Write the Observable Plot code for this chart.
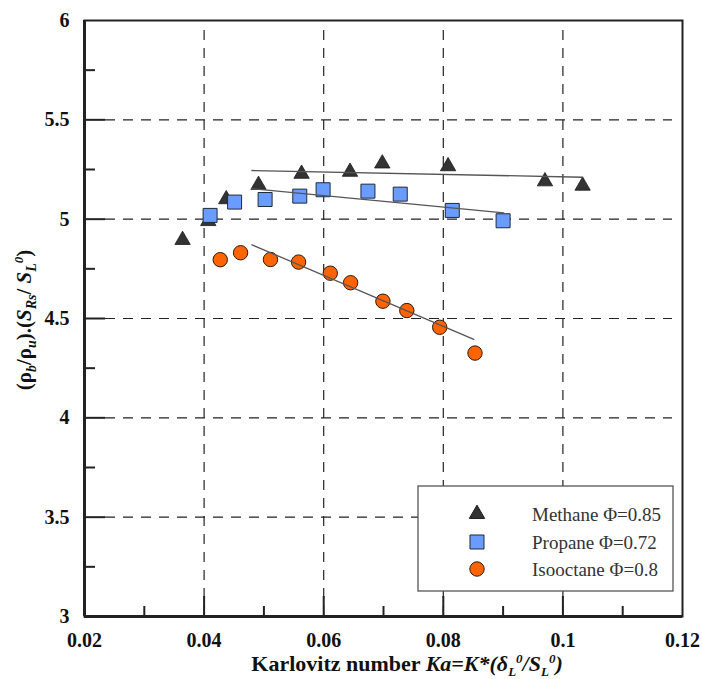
<!DOCTYPE html>
<html><head><meta charset="utf-8">
<script src="https://cdn.jsdelivr.net/npm/d3@7"></script>
<script src="https://cdn.jsdelivr.net/npm/@observablehq/plot@0.6"></script>
<style>
body{margin:0;background:#fff}
#chart{width:702px;height:679px}
#chart svg text, #chart svg tspan{font-family:'Liberation Serif','Times New Roman',serif !important}
</style>
</head><body><div id="chart"></div>
<script>
// ---- data ----
const methaneKa  = [0.0364, 0.0407, 0.0437, 0.0491, 0.0563, 0.0644, 0.0698, 0.0808, 0.0970, 0.1033];
const methaneVal = [4.895, 4.990, 5.100, 5.172, 5.228, 5.238, 5.280, 5.266, 5.190, 5.168];
const propaneKa  = [0.0410, 0.0451, 0.0502, 0.0560, 0.0599, 0.0674, 0.0728, 0.0815, 0.0900];
const propaneVal = [5.019, 5.086, 5.099, 5.116, 5.148, 5.141, 5.126, 5.044, 4.992];
const isoKa      = [0.0427, 0.0461, 0.0511, 0.0558, 0.0611, 0.0645, 0.0699, 0.0739, 0.0794, 0.0853];
const isoVal     = [4.796, 4.831, 4.797, 4.784, 4.728, 4.680, 4.587, 4.540, 4.456, 4.326];
// fitted trend lines (end points)
const methaneFitKa = [0.0480, 0.1033];
const methaneFitVal = [5.245, 5.211];
const propaneFitKa = [0.0480, 0.0901];
const propaneFitVal = [5.153, 5.032];
const isoFitKa = [0.0480, 0.0851];
const isoFitVal = [4.871, 4.395];

const seriesNames = ["Methane \u03A6=0.85", "Propane \u03A6=0.72", "Isooctane \u03A6=0.8"];
const xTicks = [0.02, 0.04, 0.06, 0.08, 0.10, 0.12];
const xTickLabels = ["0.02", "0.04", "0.06", "0.08", "0.1", "0.12"];
const xMinor = [0.03, 0.05, 0.07, 0.09, 0.11];
const yTicks = [3, 3.5, 4, 4.5, 5, 5.5, 6];
const yTickLabels = ["3", "3.5", "4", "4.5", "5", "5.5", "6"];
const yMinor = [3.25, 3.75, 4.25, 4.75, 5.25, 5.75];

// ---- build tables ----
const rows = (ka, v) => ka.map((k, i) => ({ka: k, v: v[i]}));
const methane = rows(methaneKa, methaneVal);
const propane = rows(propaneKa, propaneVal);
const iso = rows(isoKa, isoVal);
const methaneFit = rows(methaneFitKa, methaneFitVal);
const propaneFit = rows(propaneFitKa, propaneFitVal);
const isoFit = rows(isoFitKa, isoFitVal);

const xDom = [xTicks[0], xTicks[xTicks.length - 1]];
const yDom = [yTicks[0], yTicks[yTicks.length - 1]];
const xInner = xTicks.slice(1, -1);
const yInner = yTicks.slice(1, -1);
const serif = "'Liberation Serif','Times New Roman',serif";
const lab = (ticks, labels) => d => labels[ticks.findIndex(t => Math.abs(t - d) < 1e-9)];

const styles = [
  {symbol: "triangle", r: 5.7, fill: "#333333", stroke: "#1a1a1a"},
  {symbol: "square", r: 7.9, fill: "#6a9cff", stroke: "#1f2a3a"},
  {symbol: "circle", r: 7.2, fill: "#ff6400", stroke: "#2a1a10"}
];

const svg = Plot.plot({
  width: 702, height: 679,
  marginLeft: 84, marginRight: 20, marginTop: 20, marginBottom: 63,
  x: {domain: xDom}, y: {domain: yDom},
  style: {fontFamily: serif, background: "#fff", color: "#111"},
  marks: [
    Plot.ruleX(xInner, {stroke: "#222", strokeWidth: 1.2, strokeDasharray: "10,8", insetTop: 10}),
    Plot.ruleY(yInner, {stroke: "#222", strokeWidth: 1.2, strokeDasharray: "10,8", insetLeft: 21, insetRight: 10}),
    // inward ticks
    Plot.ruleX(xInner, {y1: yDom[0], y2: yDom[0], insetBottom: 20, stroke: "#222", strokeWidth: 2}),
    Plot.ruleX(xMinor, {y1: yDom[0], y2: yDom[0], insetBottom: 10, stroke: "#222", strokeWidth: 2}),
    Plot.ruleY(yInner, {x1: xDom[0], x2: xDom[0], insetRight: -21, stroke: "#222", strokeWidth: 2}),
    Plot.ruleY(yMinor, {x1: xDom[0], x2: xDom[0], insetRight: -11, stroke: "#222", strokeWidth: 2}),
    Plot.frame({stroke: "#222", strokeWidth: 2}),
    Plot.ruleY([yDom[0]], {stroke: "#222", strokeWidth: 3}),
    Plot.ruleX([xDom[0]], {stroke: "#222", strokeWidth: 3}),
    Plot.axisX({ticks: xTicks, tickSize: 0, tickPadding: 16, tickFormat: lab(xTicks, xTickLabels),
      fontSize: 20, fontWeight: "bold", fontFamily: serif, label: null}),
    Plot.axisY({ticks: yTicks, tickSize: 0, tickPadding: 15, tickFormat: lab(yTicks, yTickLabels),
      fontSize: 20, fontWeight: "bold", fontFamily: serif, label: null}),
    Plot.dot(methane, {x: "ka", y: "v", ...styles[0], strokeWidth: 0.8}),
    Plot.dot(propane, {x: "ka", y: "v", ...styles[1], strokeWidth: 1}),
    Plot.dot(iso, {x: "ka", y: "v", ...styles[2], strokeWidth: 1}),
    Plot.line(methaneFit, {x: "ka", y: "v", stroke: "#555", strokeWidth: 1.3}),
    Plot.line(propaneFit, {x: "ka", y: "v", stroke: "#555", strokeWidth: 1.3}),
    Plot.line(isoFit, {x: "ka", y: "v", stroke: "#555", strokeWidth: 1.3})
  ]
});
document.getElementById("chart").appendChild(svg);

const s = d3.select(svg);

// rich text helper
function rich(textSel, parts) {
  parts.forEach(p => {
    const t = textSel.append("tspan").text(p.t);
    if (p.i) t.attr("font-style", "italic");
    if (p.fs) t.attr("font-size", p.fs);
    if (p.dy) t.attr("dy", p.dy);
    if (p.dx) t.attr("dx", p.dx);
  });
}

// y-axis title
const yt = s.append("text")
  .attr("transform", "translate(31,320) rotate(-90)")
  .attr("text-anchor", "middle")
  .attr("font-weight", "bold").attr("font-size", 21).attr("fill", "#111");
rich(yt, [
  {t: "(\u03C1"}, {t: "b", i: 1, fs: 14, dy: 5}, {t: "/\u03C1", dy: -5}, {t: "u", i: 1, fs: 14, dy: 5},
  {t: ").(", dy: -5}, {t: "S", i: 1}, {t: "Rs", i: 1, fs: 14, dy: 5}, {t: "/ ", dy: -5}, {t: "S", i: 1},
  {t: "L", i: 1, fs: 14, dy: 5}, {t: "0", i: 1, fs: 13, dy: -13}, {t: ")", dy: 8}
]);

// x-axis title
const xt = s.append("text")
  .attr("x", 407).attr("y", 671)
  .attr("text-anchor", "middle")
  .attr("font-weight", "bold").attr("font-size", 22).attr("fill", "#111");
rich(xt, [
  {t: "Karlovitz number "}, {t: "Ka=K*(\u03B4", i: 1}, {t: "L", i: 1, fs: 13, dy: 5},
  {t: "0", i: 1, fs: 13, dy: -13}, {t: "/S", i: 1, dy: 8}, {t: "L", i: 1, fs: 13, dy: 5},
  {t: "0", i: 1, fs: 13, dy: -13}, {t: ")", i: 1, dy: 8}
]);

// legend
const lg = s.append("g");
lg.append("rect").attr("x", 418).attr("y", 486).attr("width", 255).attr("height", 105)
  .attr("fill", "#fff").attr("stroke", "#555").attr("stroke-width", 1.3);
const symMap = {triangle: d3.symbolTriangle, square: d3.symbolSquare, circle: d3.symbolCircle};
const legY = [514, 542, 569];
styles.forEach((st, i) => {
  lg.append("path")
    .attr("d", d3.symbol(symMap[st.symbol], Math.PI * st.r * st.r)())
    .attr("transform", `translate(477,${legY[i]})`)
    .attr("fill", st.fill).attr("stroke", st.stroke).attr("stroke-width", 1);
  lg.append("text").attr("x", 532).attr("y", legY[i]).attr("dy", "0.35em")
    .attr("text-anchor", "start")
    .attr("font-size", 19).attr("fill", "#333")
    .text(seriesNames[i]);
});
</script>
</body></html>
